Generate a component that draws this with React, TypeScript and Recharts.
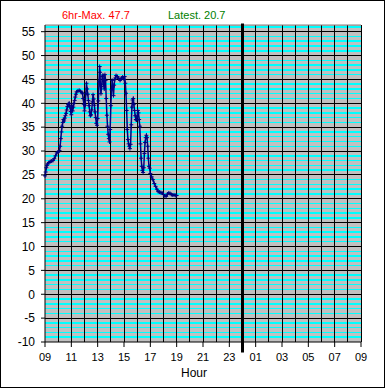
import { LineChart, Line, XAxis, YAxis, CartesianGrid, ReferenceLine } from 'recharts'

// hours since 09:00
const hours = [
  0.0, 0.05, 0.1, 0.15, 0.2, 0.3, 0.4, 0.5, 0.6, 0.7, 0.8, 0.9, 1.0, 1.1, 1.15, 1.2, 1.25, 1.3, 1.35, 1.4,
  1.45, 1.5, 1.55, 1.6, 1.65, 1.7, 1.75, 1.8, 1.85, 1.9, 1.95, 2.0, 2.05, 2.1, 2.15, 2.2, 2.25, 2.3, 2.35, 2.4,
  2.5, 2.6, 2.7, 2.8, 2.85, 2.9, 2.95, 3.0, 3.05, 3.1, 3.15, 3.2, 3.25, 3.3, 3.35, 3.4, 3.45, 3.5, 3.55, 3.6,
  3.65, 3.7, 3.75, 3.8, 3.85, 3.9, 3.95, 4.0, 4.05, 4.1, 4.15, 4.18, 4.2, 4.25, 4.3, 4.35, 4.4, 4.45, 4.5, 4.55,
  4.6, 4.65, 4.7, 4.75, 4.8, 4.85, 4.9, 4.95, 5.0, 5.05, 5.1, 5.15, 5.2, 5.25, 5.3, 5.35, 5.4, 5.5, 5.6, 5.7,
  5.8, 5.9, 6.0, 6.05, 6.1, 6.15, 6.2, 6.25, 6.3, 6.35, 6.4, 6.45, 6.5, 6.55, 6.6, 6.65, 6.7, 6.75, 6.8, 6.85,
  6.9, 6.95, 7.0, 7.05, 7.1, 7.15, 7.2, 7.25, 7.3, 7.35, 7.4, 7.45, 7.5, 7.55, 7.6, 7.65, 7.7, 7.75, 7.8, 7.85,
  7.9, 7.95, 8.0, 8.1, 8.2, 8.3, 8.4, 8.5, 8.6, 8.7, 8.8, 8.9, 9.0, 9.1, 9.2, 9.3, 9.4, 9.5, 9.6, 9.7,
  9.8, 9.9, 10.0,
]

const temps = [
  24.8, 25.6, 26.5, 27.0, 27.3, 27.6, 27.8, 27.9, 28.0, 28.4, 29.0, 29.6, 29.8, 30.1, 31.0, 32.6, 34.0, 35.2, 36.0, 36.6,
  36.3, 36.9, 37.4, 37.9, 38.6, 39.3, 39.7, 39.9, 40.0, 39.2, 38.3, 37.6, 39.5, 38.4, 39.2, 40.0, 40.6, 41.3, 41.9, 42.4,
  42.6, 42.7, 42.5, 42.3, 42.0, 41.0, 39.8, 38.4, 39.6, 42.0, 44.2, 43.0, 41.9, 40.6, 39.5, 38.2, 37.4, 37.6, 38.6, 40.3,
  41.8, 40.9, 39.6, 38.2, 37.0, 35.8, 35.4, 36.8, 40.5, 44.5, 47.7, 46.5, 44.0, 42.0, 43.5, 45.6, 45.9, 44.0, 43.0, 46.0,
  44.8, 41.0, 37.5, 35.2, 33.5, 32.6, 31.9, 34.5, 39.5, 42.8, 44.8, 43.4, 41.6, 43.8, 45.0, 45.3, 45.8, 45.6, 45.2, 44.8,
  45.3, 45.5, 45.0, 45.6, 44.2, 42.1, 38.5, 34.5, 32.4, 31.5, 31.0, 30.5, 31.4, 35.5, 39.2, 40.7, 41.0, 39.8, 38.5, 37.4,
  36.6, 36.5, 37.2, 38.5, 38.0, 36.6, 35.2, 31.5, 28.5, 26.8, 25.9, 25.5, 26.5, 29.5, 31.8, 32.8, 33.3, 32.8, 31.0, 28.5,
  26.8, 26.4, 25.3, 24.6, 24.0, 23.2, 22.6, 22.0, 21.5, 21.4, 21.3, 21.2, 20.9, 20.6, 20.5, 21.0, 21.2, 21.1, 20.9, 20.8,
  20.8, 20.7, 20.7,
]

const xTicks = [0, 2, 4, 6, 8, 10, 12, 14, 16, 18, 20, 22, 24]
const xTickLabels = ['09', '11', '13', '15', '17', '19', '21', '23', '01', '03', '05', '07', '09']
const hourLines = [1, 2, 3, 4, 5, 6, 7, 8, 9, 10, 11, 12, 13, 14, 15, 16, 17, 18, 19, 20, 21, 22, 23, 24]
const yTicks = [-10, -5, 0, 5, 10, 15, 20, 25, 30, 35, 40, 45, 50, 55]
const majorY = [-5, 0, 5, 10, 15, 20, 25, 30, 35, 40, 45, 50, 55]
const minorY = [
  -9, -8, -7, -6, -4, -3, -2, -1, 1, 2, 3, 4, 6, 7, 8, 9, 11, 12, 13, 14, 16, 17, 18, 19, 21, 22, 23, 24,
  26, 27, 28, 29, 31, 32, 33, 34, 36, 37, 38, 39, 41, 42, 43, 44, 46, 47, 48, 49, 51, 52, 53, 54, 56,
]
const midnight = 15
const yMax = 56.4

const data = hours.map((h, i) => ({ h, v: temps[i] }))

const font = 'Arial, "Liberation Sans", sans-serif'

function PlusDot(props: any) {
  const { cx, cy } = props
  if (cx == null || cy == null) return null
  return (
    <path
      d={`M${cx - 2},${cy}H${cx + 2}M${cx},${cy - 2}V${cy + 2}`}
      stroke="#000080"
      strokeWidth={1}
      fill="none"
    />
  )
}

export default function App() {
  return (
    <div
      style={{
        position: 'relative',
        width: 385,
        height: 388,
        boxSizing: 'border-box',
        border: '1px solid #000',
        background: '#fff',
        fontFamily: font,
      }}
    >
      <style>{'body{margin:0} .recharts-cartesian-grid line{shape-rendering:crispEdges}'}</style>
      <div style={{ position: 'absolute', left: 61, top: 9, fontSize: 11, lineHeight: '11px', color: '#ff0000' }}>
        6hr-Max. 47.7
      </div>
      <div style={{ position: 'absolute', left: 167, top: 9, fontSize: 11, lineHeight: '11px', color: '#008000' }}>
        Latest. 20.7
      </div>
      <div style={{ position: 'absolute', left: -1, top: -1 }}>
        <LineChart width={385} height={388} data={data} margin={{ top: 25, right: 24, bottom: 0, left: 0 }}>
          <CartesianGrid
            horizontalValues={minorY}
            vertical={false}
            stroke="#00ffff"
            strokeWidth={1.5}
            fill="#c0c0c0"
            fillOpacity={1}
          />
          <CartesianGrid horizontalValues={majorY} verticalValues={hourLines} stroke="#000" />
          <ReferenceLine y={yMax} stroke="#808080" />
          <XAxis
            type="number"
            dataKey="h"
            domain={[0, 24]}
            ticks={xTicks}
            interval={0}
            tickFormatter={(v: number, i: number) => xTickLabels[i]}
            height={46}
            tickSize={5}
            tickMargin={6}
            axisLine={{ stroke: '#000' }}
            tickLine={{ stroke: '#000' }}
            tick={{ fill: '#000', fontSize: 11, fontFamily: font }}
            label={{ value: 'Hour', position: 'insideBottom', offset: 11, dx: -9, fill: '#000', fontSize: 12, fontFamily: font }}
          />
          <YAxis
            type="number"
            domain={[-10, yMax]}
            ticks={yTicks}
            interval={0}
            allowDataOverflow
            width={45}
            tickSize={4}
            tickMargin={6}
            axisLine={{ stroke: '#000' }}
            tickLine={{ stroke: '#000' }}
            tick={{ fill: '#000', fontSize: 12, fontFamily: font }}
          />
          <ReferenceLine
            segment={[
              { x: midnight, y: -12.2 },
              { x: midnight, y: 56.7 },
            ]}
            ifOverflow="visible"
            stroke="#000"
            strokeWidth={3}
          />
          <Line
            type="linear"
            dataKey="v"
            stroke="#000080"
            strokeWidth={1.5}
            dot={<PlusDot />}
            activeDot={false}
            isAnimationActive={false}
          />
        </LineChart>
      </div>
    </div>
  )
}
